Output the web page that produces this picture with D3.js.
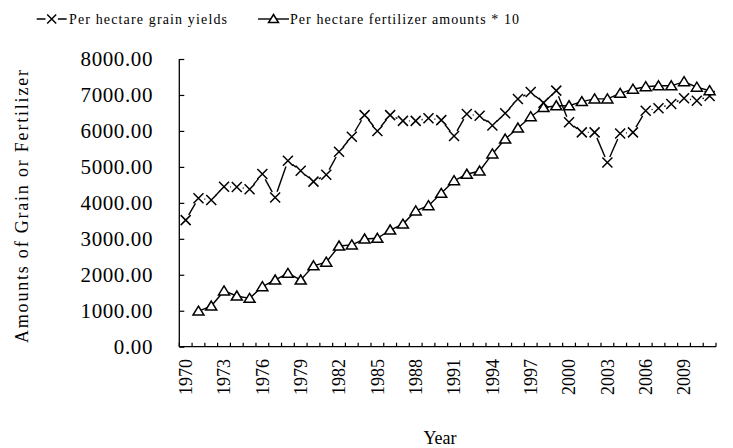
<!DOCTYPE html>
<html>
<head>
<meta charset="utf-8">
<script src="https://cdn.jsdelivr.net/npm/d3@7"></script>
<style>
  html, body { margin: 0; padding: 0; background: #fff; }
  svg text { font-family: "Liberation Serif", "DejaVu Serif", serif; fill: #000; }
</style>
</head>
<body>
<div id="chart"></div>
<script>
// years on the category axis
const years = d3.range(1970, 2012);
const labelYears = years.filter(y => (y - 1970) % 3 === 0);

// per hectare grain yields, 1970-2011
const grainYields = [
  3520, 4130, 4080, 4450, 4440, 4380, 4800, 4150, 5170, 4890,
  4590, 4780, 5420, 5840, 6440, 6000, 6440, 6280, 6280, 6350,
  6300, 5860, 6470, 6420, 6150, 6490, 6890, 7080, 6780, 7120,
  6240, 5960, 5960, 5120, 5930, 5960, 6560, 6630, 6750, 6910,
  6840, 6970
];

// per hectare fertilizer amounts * 10, 1971-2011
const fertYears = d3.range(1971, 2012);
const fertAmounts = [
  990, 1130, 1550, 1410, 1345, 1670, 1855, 2040, 1855, 2250,
  2350, 2800, 2830, 2995, 3015, 3245, 3410, 3775, 3920, 4265,
  4615, 4795, 4885, 5360, 5775, 6080, 6395, 6650, 6700, 6700,
  6815, 6890, 6890, 7045, 7160, 7230, 7255, 7255, 7370, 7215,
  7120
];

const yTicks = d3.range(0, 8001, 1000);

const width = 733, height = 448;
const svg = d3.select("#chart").append("svg")
  .attr("width", width).attr("height", height);

const x = d3.scaleBand().domain(years).range([179.3, 716]).padding(0);
const y = d3.scaleLinear().domain([0, 8000]).range([346.7, 59]);
const cx = d => x(d) + x.bandwidth() / 2;

// y axis
const yAxis = svg.append("g")
  .attr("transform", "translate(179.3,0)")
  .call(d3.axisRight(y).tickValues(yTicks).tickSize(5).tickFormat(""));
yAxis.select(".domain").attr("d", `M0,${y(0)}V${y(8000)}`).attr("stroke", "#000").attr("stroke-width", 1.3);
yAxis.selectAll(".tick line").attr("stroke", "#000").attr("stroke-width", 1.2);

svg.append("g").selectAll("text")
  .data(yTicks)
  .join("text")
    .attr("x", 153)
    .attr("y", d => y(d))
    .attr("dy", "0.35em")
    .attr("text-anchor", "end")
    .style("font-size", "21px")
    .style("letter-spacing", "0.6px")
    .text(d3.format(".2f"));

// x axis
const xAxis = svg.append("g").attr("transform", `translate(0,${y(0)})`);
xAxis.append("path")
  .attr("d", `M${x.range()[0]},0H${x.range()[1]}`)
  .attr("stroke", "#000").attr("stroke-width", 1.3);
const edges = years.map(d => x(d)).concat([x.range()[1]]);
xAxis.selectAll("line.tick")
  .data(edges)
  .join("line")
    .attr("class", "tick")
    .attr("x1", d => d).attr("x2", d => d)
    .attr("y1", 0).attr("y2", -4)
    .attr("stroke", "#000").attr("stroke-width", 1.2);

svg.append("g").selectAll("text")
  .data(labelYears)
  .join("text")
    .attr("transform", d => `translate(${cx(d)},359) rotate(-90)`)
    .attr("dy", "0.35em")
    .attr("text-anchor", "end")
    .style("font-size", "18px")
    .text(d => d);

// axis titles
svg.append("text")
  .attr("transform", "translate(22,206.5) rotate(-90)")
  .attr("dy", "0.35em")
  .attr("text-anchor", "middle")
  .attr("textLength", 273)
  .style("font-size", "18px")
  .text("Amounts of Grain or Fertilizer");

svg.append("text")
  .attr("x", 440).attr("y", 444)
  .attr("text-anchor", "middle")
  .style("font-size", "18px")
  .text("Year");

// grain line, broken around the x markers
const gap = 6;
const grainPts = years.map((yr, i) => [cx(yr), y(grainYields[i])]);
const segs = d3.pairs(grainPts).map(([a, b]) => {
  const dx = b[0] - a[0], dy = b[1] - a[1], L = Math.hypot(dx, dy);
  if (L <= 2 * gap) return null;
  const ux = dx / L, uy = dy / L;
  return [a[0] + ux * gap, a[1] + uy * gap, b[0] - ux * gap, b[1] - uy * gap];
}).filter(Boolean);
svg.append("g").selectAll("line")
  .data(segs)
  .join("line")
    .attr("x1", d => d[0]).attr("y1", d => d[1])
    .attr("x2", d => d[2]).attr("y2", d => d[3])
    .attr("stroke", "#000").attr("stroke-width", 1.4);

const xMark = (px, py, s) => `M${px - s},${py - s}L${px + s},${py + s}M${px - s},${py + s}L${px + s},${py - s}`;
svg.append("g").selectAll("path")
  .data(years)
  .join("path")
    .attr("d", (d, i) => xMark(cx(d), y(grainYields[i]), 5))
    .attr("stroke", "#000").attr("stroke-width", 1.5).attr("fill", "none");

// fertilizer line with triangle markers
svg.append("path")
  .datum(fertYears)
  .attr("d", d3.line().x(d => cx(d)).y((d, i) => y(fertAmounts[i])))
  .attr("fill", "none").attr("stroke", "#000").attr("stroke-width", 1.4);

const triMark = (px, py, s) => `M${px},${py - s}L${px + s * 1.1},${py + s * 0.8}L${px - s * 1.1},${py + s * 0.8}Z`;
svg.append("g").selectAll("path")
  .data(fertYears)
  .join("path")
    .attr("d", (d, i) => triMark(cx(d), y(fertAmounts[i]), 5))
    .attr("fill", "#fff").attr("stroke", "#000").attr("stroke-width", 1.5);

// legend
const ly = 19;
const legend = svg.append("g");
legend.append("path").attr("d", `M36.7,${ly}H45.5M57.9,${ly}H66.7`)
  .attr("stroke", "#000").attr("stroke-width", 1.4);
legend.append("path").attr("d", xMark(51.7, ly, 4.5))
  .attr("stroke", "#000").attr("stroke-width", 1.5).attr("fill", "none");
legend.append("text").attr("x", 69).attr("y", ly + 5)
  .attr("textLength", 158)
  .style("font-size", "14px")
  .text("Per hectare grain yields");

legend.append("line").attr("x1", 258).attr("x2", 289).attr("y1", ly).attr("y2", ly)
  .attr("stroke", "#000").attr("stroke-width", 1.4);
legend.append("path").attr("d", triMark(273.5, ly, 4.5))
  .attr("fill", "#fff").attr("stroke", "#000").attr("stroke-width", 1.5);
legend.append("text").attr("x", 290).attr("y", ly + 5)
  .attr("textLength", 229)
  .style("font-size", "14px")
  .text("Per hectare fertilizer amounts * 10");
</script>
</body>
</html>
